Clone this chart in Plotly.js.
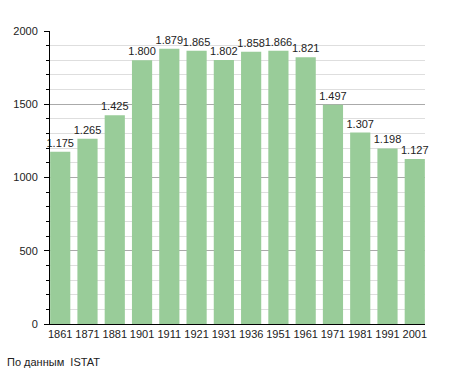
<!DOCTYPE html>
<html><head><meta charset="utf-8">
<script src="https://cdn.plot.ly/plotly-3.0.1.min.js"></script>
<style>html,body{margin:0;padding:0;background:#fff;}</style>
</head><body>
<div id="chart" style="width:455px;height:373px;"></div>
<script>
const years = ["1861","1871","1881","1901","1911","1921","1931","1936","1951","1961","1971","1981","1991","2001"];
const population = [1175,1265,1425,1800,1879,1865,1802,1858,1866,1821,1497,1307,1198,1127];
const sourceNote = "По данным  ISTAT";

const labels = population.map(v => String(v).replace(/\B(?=(\d{3})+(?!\d))/g, "."));

const trace = {
  type: "bar",
  x: years,
  y: population,
  text: labels,
  textposition: "outside",
  constraintext: "none",
  cliponaxis: false,
  textfont: {family: "Liberation Sans, Arial, sans-serif", size: 11, color: "#222"},
  marker: {color: "#99cc99", line: {width: 0}},
  hoverinfo: "none"
};

const layout = {
  width: 455, height: 373,
  margin: {l: 50, r: 29.5, t: 31, b: 49},
  paper_bgcolor: "#fff", plot_bgcolor: "#fff",
  bargap: 0.26,
  showlegend: false,
  font: {family: "Liberation Sans, Arial, sans-serif", size: 11, color: "#222"},
  xaxis: {
    type: "category",
    range: [-0.375, 13.375],
    showline: true, linecolor: "#000", linewidth: 1,
    ticks: "", showgrid: false, zeroline: false,
    tickfont: {size: 11, color: "#222"}
  },
  yaxis: {
    range: [0, 2000],
    dtick: 500,
    showline: true, linecolor: "#000", linewidth: 1,
    ticks: "outside", ticklen: 5, tickcolor: "#000",
    ticklabelstandoff: 4,
    showgrid: true, gridcolor: "#aaaaaa", gridwidth: 1,
    zeroline: false,
    tickfont: {size: 11, color: "#222"},
    minor: {dtick: 100, ticks: "outside", ticklen: 3, tickcolor: "#000", showgrid: true, gridcolor: "#dedede", gridwidth: 1}
  },
  annotations: [{
    text: sourceNote, xref: "paper", yref: "paper",
    x: -0.12, y: -0.13, xanchor: "left", yanchor: "middle",
    showarrow: false, font: {size: 11, color: "#222"}
  }]
};

Plotly.newPlot("chart", [trace], layout, {displayModeBar: false, staticPlot: true});
</script>
</body></html>
